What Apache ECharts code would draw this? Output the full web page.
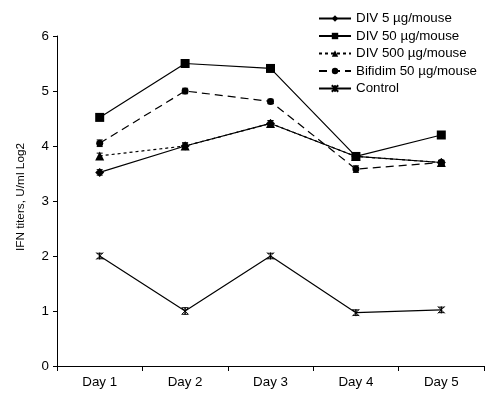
<!DOCTYPE html>
<html><head><meta charset="utf-8">
<script src="https://cdn.jsdelivr.net/npm/echarts@6/dist/echarts.min.js"></script>
<style>html,body{margin:0;padding:0;background:#fff}#c{width:500px;height:399px}</style>
</head><body><div id="c"></div>
<script>
const days = ['Day 1','Day 2','Day 3','Day 4','Day 5'];
const div5 = [3.52, 4.00, 4.41, 3.81, 3.70];
const div50 = [4.52, 5.50, 5.41, 3.81, 4.20];
const div500 = [3.82, 4.00, 4.41, 3.81, 3.70];
const bifidim = [4.05, 5.00, 4.81, 3.58, 3.70];
const control = [2.00, 1.00, 2.00, 0.97, 1.02];
const div5Err = [0.05, 0.06, 0.05, 0.04, 0.04];
const div50Err = [0.03, 0.03, 0.03, 0.03, 0.03];
const div500Err = [0.05, 0.05, 0.05, 0.04, 0.04];
const bifidimErr = [0.06, 0.05, 0.04, 0.06, 0.03];
const controlErr = [0.05, 0.06, 0.05, 0.05, 0.05];
const yTicks = [0,1,2,3,4,5,6];

const font = 'Liberation Sans, Arial, sans-serif';
const fs = 13.33;
const starPath = 'path://M0,0L10,10M10,0L0,10M5,0L5,10';

function lineSeries(name, data, symbol, size, type){
  return {
    name, type:'line', data, symbol, symbolSize:size,
    lineStyle:{color:'#000', width:1.2, type:type},
    itemStyle:{color:'#000', borderColor:'#000', borderWidth: symbol===starPath?1:0},
    emphasis:{disabled:true}, z:3
  };
}
function errSeries(vals, errs){
  return {
    type:'custom', silent:true, z:4,
    data: vals.map((v,i)=>[i, v-errs[i], v+errs[i]]),
    renderItem(params, api){
      const lo = api.coord([api.value(0), api.value(1)]);
      const hi = api.coord([api.value(0), api.value(2)]);
      const w = 3;
      return {type:'group', children:[
        {type:'line', shape:{x1:lo[0],y1:lo[1],x2:hi[0],y2:hi[1]}, style:{stroke:'#000',lineWidth:1}},
        {type:'line', shape:{x1:lo[0]-w,y1:lo[1],x2:lo[0]+w,y2:lo[1]}, style:{stroke:'#000',lineWidth:1}},
        {type:'line', shape:{x1:hi[0]-w,y1:hi[1],x2:hi[0]+w,y2:hi[1]}, style:{stroke:'#000',lineWidth:1}}
      ]};
    }
  };
}

const chart = echarts.init(document.getElementById('c'));
chart.setOption({
  animation:false,
  backgroundColor:'#fff',
  textStyle:{fontFamily:font},
  grid:{left:57, right:16, top:36, bottom:33},
  legend:{
    orient:'vertical', left:313, top:7, itemGap:4.5, itemWidth:32, itemHeight:8,
    textStyle:{fontFamily:font, fontSize:fs, color:'#000'},
    data:['DIV 5 µg/mouse','DIV 50 µg/mouse','DIV 500 µg/mouse','Bifidim 50 µg/mouse','Control']
  },
  xAxis:{
    type:'category', data:days, boundaryGap:true,
    axisLine:{lineStyle:{color:'#000', width:1}},
    axisTick:{show:true, alignWithLabel:false, length:5, lineStyle:{color:'#000'}},
    axisLabel:{color:'#000', fontSize:fs, fontFamily:font, margin:10},
    splitLine:{show:false}
  },
  yAxis:{
    type:'value', min:0, max:6, interval:1,
    name:'IFN titers, U/ml Log2', nameLocation:'middle', nameGap:30, nameRotate:90,
    nameTextStyle:{color:'#000', fontSize:11.8, fontFamily:font, padding:[0,0,0,8]},
    axisLine:{show:true, lineStyle:{color:'#000', width:1}},
    axisTick:{show:true, inside:false, length:4, lineStyle:{color:'#000'}},
    axisLabel:{color:'#000', fontSize:fs, fontFamily:font, margin:8,
      formatter:(v)=> yTicks.includes(v) ? String(v) : ''},
    splitLine:{show:false}
  },
  series:[
    lineSeries('DIV 5 µg/mouse', div5, 'diamond', 9, 'solid'),
    lineSeries('DIV 50 µg/mouse', div50, 'rect', 9, 'solid'),
    lineSeries('DIV 500 µg/mouse', div500, 'triangle', 9, [3,3]),
    lineSeries('Bifidim 50 µg/mouse', bifidim, 'circle', 7, [8,5]),
    lineSeries('Control', control, starPath, 7, 'solid'),
    errSeries(div5, div5Err),
    errSeries(div50, div50Err),
    errSeries(div500, div500Err),
    errSeries(bifidim, bifidimErr),
    errSeries(control, controlErr)
  ]
});
</script></body></html>
